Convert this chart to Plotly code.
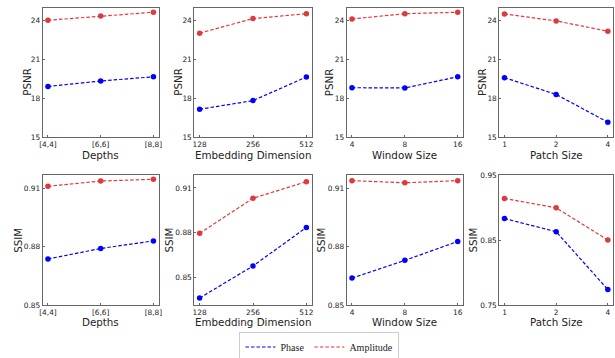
import plotly.graph_objects as go

# ---- data ----
depth_labels = ["[4,4]", "[6,6]", "[8,8]"]
embed_labels = ["128", "256", "512"]
window_labels = ["4", "8", "16"]
patch_labels = ["1", "2", "4"]

psnr_phase_depth = [18.92, 19.34, 19.67]
psnr_amp_depth = [24.05, 24.38, 24.67]
psnr_phase_embed = [17.15, 17.82, 19.65]
psnr_amp_embed = [23.05, 24.18, 24.56]
psnr_phase_window = [18.82, 18.80, 19.67]
psnr_amp_window = [24.15, 24.56, 24.67]
psnr_phase_patch = [19.60, 18.30, 16.15]
psnr_amp_patch = [24.54, 24.00, 23.20]

ssim_phase_depth = [0.8736, 0.8790, 0.8829]
ssim_amp_depth = [0.9109, 0.9136, 0.9145]
ssim_phase_embed = [0.8361, 0.8576, 0.8835]
ssim_amp_embed = [0.8795, 0.9031, 0.9142]
ssim_phase_window = [0.8638, 0.8729, 0.8826]
ssim_amp_window = [0.9138, 0.9127, 0.9138]
ssim_phase_patch = [0.8830, 0.8628, 0.7738]
ssim_amp_patch = [0.9139, 0.8995, 0.8500]

x_titles = ["Depths", "Embedding Dimension", "Window Size", "Patch Size"]
x_labels = [depth_labels, embed_labels, window_labels, patch_labels]
psnr_phase = [psnr_phase_depth, psnr_phase_embed, psnr_phase_window, psnr_phase_patch]
psnr_amp = [psnr_amp_depth, psnr_amp_embed, psnr_amp_window, psnr_amp_patch]
ssim_phase = [ssim_phase_depth, ssim_phase_embed, ssim_phase_window, ssim_phase_patch]
ssim_amp = [ssim_amp_depth, ssim_amp_embed, ssim_amp_window, ssim_amp_patch]

psnr_ticks = [15, 18, 21, 24]
ssim_ticks = [[0.85, 0.88, 0.91], [0.85, 0.88, 0.91], [0.85, 0.88, 0.91], [0.75, 0.85, 0.95]]
ssim_ranges = [[0.85, 0.9167], [0.8314, 0.9187], [0.85, 0.9167], [0.75, 0.95]]

BLUE = "#0000ff"
RED = "#e0393c"
DASH = "3.5px,2px"
W, H = 615, 358
xdom_px = [(42.7, 158.7), (194.3, 311.7), (346.7, 463.0), (499.3, 613.0)]
top_px = (8, 137)
bot_px = (175, 305)
psnr_title_x = [26.8, 177.8, 329.3, 482.0]
ssim_title_x = [17.3, 168.0, 320.0, 472.0]
ytitle_y = [82.0, 240.5]
xtitle_y = [154.5, 322.0]

fig = go.Figure()
font = "DejaVu Sans"
AX = "#666666"
TXT = "#222222"

def ydom(p):
    return [1 - p[1] / H, 1 - p[0] / H]

annotations = []
idx = 0
for row in range(2):
    for col in range(4):
        idx += 1
        xa = "x" if idx == 1 else f"x{idx}"
        ya = "y" if idx == 1 else f"y{idx}"
        xs = [0, 1, 2]
        if row == 0:
            phase, amp = psnr_phase[col], psnr_amp[col]
        else:
            phase, amp = ssim_phase[col], ssim_amp[col]
        fig.add_trace(go.Scatter(x=xs, y=amp, mode="lines+markers", xaxis=xa, yaxis=ya,
                                 line=dict(color=RED, dash=DASH, width=1.2),
                                 marker=dict(color=RED, size=5.5), showlegend=False))
        fig.add_trace(go.Scatter(x=xs, y=phase, mode="lines+markers", xaxis=xa, yaxis=ya,
                                 line=dict(color=BLUE, dash=DASH, width=1.2),
                                 marker=dict(color=BLUE, size=5.5), showlegend=False))
        x0, x1 = xdom_px[col]
        xkey = "xaxis" if idx == 1 else f"xaxis{idx}"
        ykey = "yaxis" if idx == 1 else f"yaxis{idx}"
        fig.layout[xkey] = dict(
            domain=[x0 / W, x1 / W], anchor=ya, range=[-0.1, 2.1],
            tickmode="array", tickvals=xs, ticktext=x_labels[col],
            ticks="inside", ticklen=2, tickcolor=AX, automargin=False,
            showline=True, linecolor=AX, linewidth=1, mirror=True,
            showgrid=False, zeroline=False,
            tickfont=dict(family=font, size=7.4, color=TXT),
        )
        if row == 0:
            yr, yt, ytitle = [15, 25], psnr_ticks, "PSNR"
            ytt = [str(v) for v in yt]
            tx = psnr_title_x[col]
            py = top_px
        else:
            yr, yt, ytitle = ssim_ranges[col], ssim_ticks[col], "SSIM"
            ytt = [f"{v:.2f}" for v in yt]
            tx = ssim_title_x[col]
            py = bot_px
        fig.layout[ykey] = dict(
            domain=ydom(py), anchor=xa, range=yr,
            tickmode="array", tickvals=yt, ticktext=ytt,
            ticks="inside", ticklen=2, tickcolor=AX, automargin=False,
            showline=True, linecolor=AX, linewidth=1, mirror=True,
            showgrid=False, zeroline=False,
            tickfont=dict(family=font, size=7.4, color=TXT),
        )
        # axis titles
        annotations.append(dict(
            text=ytitle, textangle=-90, xref="paper", yref="paper",
            x=tx / W, y=1 - ytitle_y[row] / H, xanchor="center", yanchor="middle",
            showarrow=False, font=dict(family=font, size=10.3, color=TXT)))
        annotations.append(dict(
            text=x_titles[col], xref="paper", yref="paper",
            x=(x0 + x1) / 2 / W, y=1 - xtitle_y[row] / H, xanchor="center", yanchor="middle",
            showarrow=False, font=dict(family=font, size=10.3, color=TXT)))

# legend-only entries
fig.add_trace(go.Scatter(x=[None], y=[None], mode="lines", name="Phase",
                         line=dict(color=BLUE, dash=DASH, width=1.2)))
fig.add_trace(go.Scatter(x=[None], y=[None], mode="lines", name="Amplitude",
                         line=dict(color=RED, dash=DASH, width=1.2)))

fig.update_layout(
    width=W, height=H, margin=dict(l=0, r=0, t=0, b=0, autoexpand=False),
    plot_bgcolor="white", paper_bgcolor="white",
    annotations=annotations,
    legend=dict(orientation="h", x=0.5195, xanchor="center", y=1 - 347 / H, yanchor="middle",
                bordercolor="#cccccc", borderwidth=1,
                font=dict(family="Liberation Serif", size=10, color=TXT),
                itemwidth=30, tracegroupgap=0),
)

fig.write_html("out.html", config={"displayModeBar": False},
               post_script="document.body.style.margin='0';document.body.style.padding='0';")
